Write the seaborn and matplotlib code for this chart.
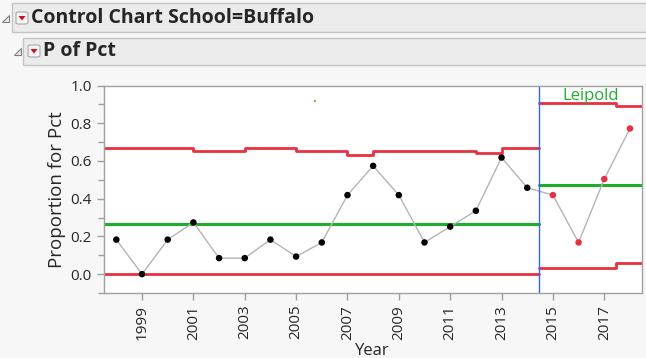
import numpy as np
import pandas as pd
import seaborn as sns
import matplotlib.pyplot as plt
from matplotlib.patches import Rectangle, Polygon, FancyBboxPatch

# dados
years = list(range(1998, 2019))
pct = [0.183, 0.0, 0.183, 0.274, 0.085, 0.085, 0.183, 0.093, 0.168, 0.419,
       0.574, 0.419, 0.168, 0.252, 0.336, 0.618, 0.458, 0.419, 0.168, 0.504, 0.772]
phase = ["Buffalo"] * 17 + ["Leipold"] * 4

# limites fase 1
ucl1_x = [1997.5, 2001, 2003, 2005, 2007, 2008, 2012, 2013, 2014.47]
ucl1_y = [0.671, 0.655, 0.671, 0.655, 0.629, 0.655, 0.641, 0.671, 0.671]
cl1_x = [1997.5, 2014.47]
cl1_y = [0.268, 0.268]
lcl1_x = [1997.5, 2014.47]
lcl1_y = [0.0, 0.0]

# limites fase 2
ucl2_x = [2014.47, 2017.45, 2018.45]
ucl2_y = [0.905, 0.889, 0.889]
cl2_x = [2014.47, 2018.45]
cl2_y = [0.47, 0.47]
lcl2_x = [2014.47, 2017.45, 2018.45]
lcl2_y = [0.035, 0.058, 0.058]

yticks = [0.0, 0.2, 0.4, 0.6, 0.8, 1.0]
xticks = list(range(1999, 2018, 2))

df = pd.DataFrame({"Year": years, "Pct": pct, "Phase": phase})

sns.set_style("white")
plt.rcParams["font.family"] = ["Open Sans", "DejaVu Sans"]

W, H = 646, 358
fig = plt.figure(figsize=(W / 100, H / 100), dpi=100)
fig.patch.set_facecolor("#f7f7f7")


def px_rect(x, y, w, h, **kw):
    fig.add_artist(Rectangle((x / W, 1 - (y + h) / H), w / W, h / H,
                             transform=fig.transFigure, **kw))


# cabeçalhos
px_rect(11.5, 3.5, 640, 28, facecolor="#ebebeb", edgecolor="#c4c4c4", lw=1)
px_rect(23.5, 37.5, 630, 27, facecolor="#ebebeb", edgecolor="#c4c4c4", lw=1)

for (tx, ty) in [(2, 22), (14, 55)]:
    fig.add_artist(Polygon([(tx / W, 1 - ty / H), ((tx + 7) / W, 1 - ty / H),
                            ((tx + 7) / W, 1 - (ty - 7) / H)], closed=True,
                           transform=fig.transFigure, facecolor="#e8e8e8",
                           edgecolor="#808080", lw=0.8))
for (bx, by) in [(16, 12), (28, 45)]:
    fig.add_artist(FancyBboxPatch((bx / W, 1 - (by + 12) / H), 12 / W, 12 / H,
                                  boxstyle="round,pad=0,rounding_size=0.004",
                                  transform=fig.transFigure, facecolor="#f4f4f4",
                                  edgecolor="#a8a8a8", lw=0.8))
    fig.add_artist(Polygon([((bx + 2.5) / W, 1 - (by + 4) / H), ((bx + 9.5) / W, 1 - (by + 4) / H),
                            ((bx + 6) / W, 1 - (by + 8.5) / H)], closed=True,
                           transform=fig.transFigure, facecolor="#d01020", lw=0))

fig.text(31 / W, 1 - 18 / H, "Control Chart School=Buffalo", fontsize=14,
         fontweight="bold", va="center", ha="left")
fig.text(43 / W, 1 - 51.5 / H, "P of Pct", fontsize=14, fontweight="bold",
         va="center", ha="left")

ax = fig.add_axes([103.5 / W, 1 - 293 / H, (641.5 - 103.5) / W, (293 - 85.5) / H])
ax.set_facecolor("white")

red = "#e8313f"
green = "#1fae2a"

# limites
sns.lineplot(x=ucl1_x, y=ucl1_y, drawstyle="steps-post", color=red, lw=2, ax=ax, estimator=None)
sns.lineplot(x=lcl1_x, y=lcl1_y, color=red, lw=2, ax=ax, estimator=None)
sns.lineplot(x=cl1_x, y=cl1_y, color=green, lw=2.2, ax=ax, estimator=None)
sns.lineplot(x=ucl2_x, y=ucl2_y, drawstyle="steps-post", color=red, lw=2, ax=ax, estimator=None)
sns.lineplot(x=lcl2_x, y=lcl2_y, drawstyle="steps-post", color=red, lw=2, ax=ax, estimator=None)
sns.lineplot(x=cl2_x, y=cl2_y, color=green, lw=2.2, ax=ax, estimator=None)

# dados
sns.lineplot(data=df, x="Year", y="Pct", color="#b4b4b4", lw=1, ax=ax, estimator=None)
sns.scatterplot(data=df, x="Year", y="Pct", hue="Phase",
                palette={"Buffalo": "black", "Leipold": red}, s=22,
                edgecolor="none", legend=False, ax=ax, zorder=5)

ax.axvline(2014.47, color="#3366ee", lw=1)
ax.plot([2005.72], [0.92], marker="s", ms=1.5, color="#66cc33", mew=0)
ax.text(2016.47, 0.945, "Leipold", color=green, fontsize=12, ha="center", va="center")

ax.set_xlim(1997.5, 2018.45)
ax.set_ylim(-0.1, 1.0)
ax.set_yticks(yticks)
ax.set_yticklabels([f"{v:.1f}" for v in yticks])
ax.set_yticks(np.arange(-0.1, 1.0, 0.2), minor=True)
ax.set_xticks(xticks)
ax.set_xticklabels([str(v) for v in xticks], rotation=90)
ax.tick_params(axis="both", which="both", direction="out", color="#a0a0a0",
               labelsize=11, length=5, width=1, left=True, bottom=True)
ax.tick_params(axis="y", which="minor", length=4)

for s in ax.spines.values():
    s.set_color("#a0a0a0")
    s.set_linewidth(1)

ax.set_xlabel("Year", fontsize=12, labelpad=2)
ax.set_ylabel("Proportion for Pct", fontsize=13.5, labelpad=3)

fig.savefig("out.png", dpi=100, facecolor=fig.get_facecolor())
